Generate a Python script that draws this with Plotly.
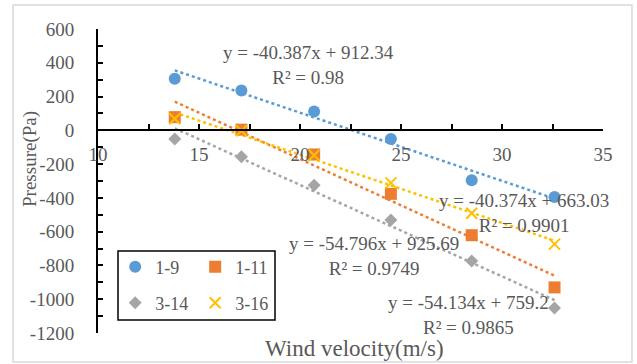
import plotly.graph_objects as go

# ---- data ----
wind_velocity = [13.8, 17.1, 20.7, 24.5, 28.5, 32.6]
p_1_9 = [305, 236, 112, -51, -295, -395]
p_1_11 = [78, 4, -143, -376, -621, -930]
p_3_14 = [-51, -157, -325, -531, -773, -1052]
p_3_16 = [69, -2, -148, -311, -491, -674]

series_names = ["1-9", "1-11", "3-14", "3-16"]
series_values = [p_1_9, p_1_11, p_3_14, p_3_16]

# trendline equations as printed on the chart
slopes = [-40.387, -54.796, -54.134, -40.374]
intercepts = [912.34, 925.69, 759.2, 663.03]
r2_values = ["0.98", "0.9749", "0.9865", "0.9901"]

x_ticks = [10, 15, 20, 25, 30, 35]
y_ticks = [600, 400, 200, 0, -200, -400, -600, -800, -1000, -1200]
y_tick_labels = [str(v) for v in y_ticks]  # plain hyphen minus, as in the reference

# ---- styles ----
colors = ["#5B9BD5", "#ED7D31", "#A5A5A5", "#FFC000"]
symbols = ["circle", "square", "diamond", "x-thin-open"]
sizes = [12, 12, 10, 11]
legend_ids = ["legend", "legend", "legend2", "legend2"]
FONT = "Liberation Serif, Times New Roman, serif"
TXT = "#595959"

fig = go.Figure()

# trendlines (dotted)
for i in range(4):
    xs = [wind_velocity[0], wind_velocity[-1]]
    ys = [slopes[i] * x + intercepts[i] for x in xs]
    fig.add_trace(go.Scatter(x=xs, y=ys, mode="lines", showlegend=False,
                             line=dict(color=colors[i], width=2.5, dash="dot"),
                             hoverinfo="skip"))

# markers
for i in range(4):
    marker = dict(color=colors[i], size=sizes[i], symbol=symbols[i])
    if symbols[i] == "x-thin-open":
        marker["line"] = dict(color=colors[i], width=2)
    fig.add_trace(go.Scatter(x=wind_velocity, y=series_values[i], mode="markers",
                             name=series_names[i], marker=marker,
                             legend=legend_ids[i]))

# trendline labels
ann_pos = [(20.40, 386), (23.66, -746), (28.32, -1094), (31.09, -490)]
for i in range(4):
    sign = "+" if intercepts[i] >= 0 else "-"
    txt = f"y = {slopes[i]}x {sign} {abs(intercepts[i])}<br>R² = {r2_values[i]}"
    fig.add_annotation(x=ann_pos[i][0], y=ann_pos[i][1], text=txt, showarrow=False,
                       xanchor="center", yanchor="middle", align="center",
                       font=dict(family=FONT, size=19, color=TXT))

# axis titles
fig.add_annotation(xref="paper", yref="paper", x=0.508, y=-0.052,
                   text="Wind velocity(m/s)", showarrow=False,
                   xanchor="center", yanchor="middle",
                   font=dict(family=FONT, size=23, color=TXT))
fig.add_annotation(xref="paper", yref="paper", x=-0.1347, y=0.5724,
                   text="Pressure(Pa)", showarrow=False, textangle=-90,
                   xanchor="center", yanchor="middle",
                   font=dict(family=FONT, size=19, color=TXT))

# outer chart border and legend box
fig.add_shape(type="rect", xref="paper", yref="paper",
              x0=-0.1683, x1=1.0574, y0=-0.0954, y1=1.0789,
              line=dict(color="#D9D9D9", width=1.5), layer="below")
fig.add_shape(type="rect", xref="paper", yref="paper",
              x0=0.0396, x1=0.3505, y0=0.0428, y1=0.2697,
              line=dict(color="black", width=1.5))

legend_common = dict(orientation="h", bgcolor="rgba(0,0,0,0)", borderwidth=0,
                     font=dict(family=FONT, size=18, color=TXT),
                     xanchor="left", yanchor="middle", entrywidth=35,
                     itemclick=False, itemdoubleclick=False)

fig.update_layout(
    width=637, height=364,
    margin=dict(l=98, r=34, t=29, b=31),
    paper_bgcolor="white", plot_bgcolor="white",
    showlegend=True,
    legend=dict(x=0.034, y=(333 - 267) / 304, **legend_common),
    legend2=dict(x=0.034, y=(333 - 303) / 304, **legend_common),
    xaxis=dict(range=[10, 35], tickvals=x_ticks, showgrid=False, zeroline=False,
               showline=True, linecolor="black", linewidth=2,
               anchor="free", position=2 / 3,
               ticks="inside", ticklen=5, tickwidth=2, tickcolor="black",
               minor=dict(dtick=2.5, ticks="inside", ticklen=5, tickwidth=2, tickcolor="black"),
               ticklabelstandoff=7,
               tickfont=dict(family=FONT, size=19, color=TXT)),
    yaxis=dict(range=[-1200, 600], tickvals=y_ticks, ticktext=y_tick_labels,
               showgrid=False, zeroline=False,
               showline=True, linecolor="black", linewidth=2,
               ticks="inside", ticklen=5, tickwidth=2, tickcolor="black",
               minor=dict(dtick=100, ticks="inside", ticklen=5, tickwidth=2, tickcolor="black"),
               ticklabelstandoff=18,
               tickfont=dict(family=FONT, size=19, color=TXT)),
)

fig.write_html("out.html", config={"displayModeBar": False},
               post_script="document.body.style.margin='0';")
